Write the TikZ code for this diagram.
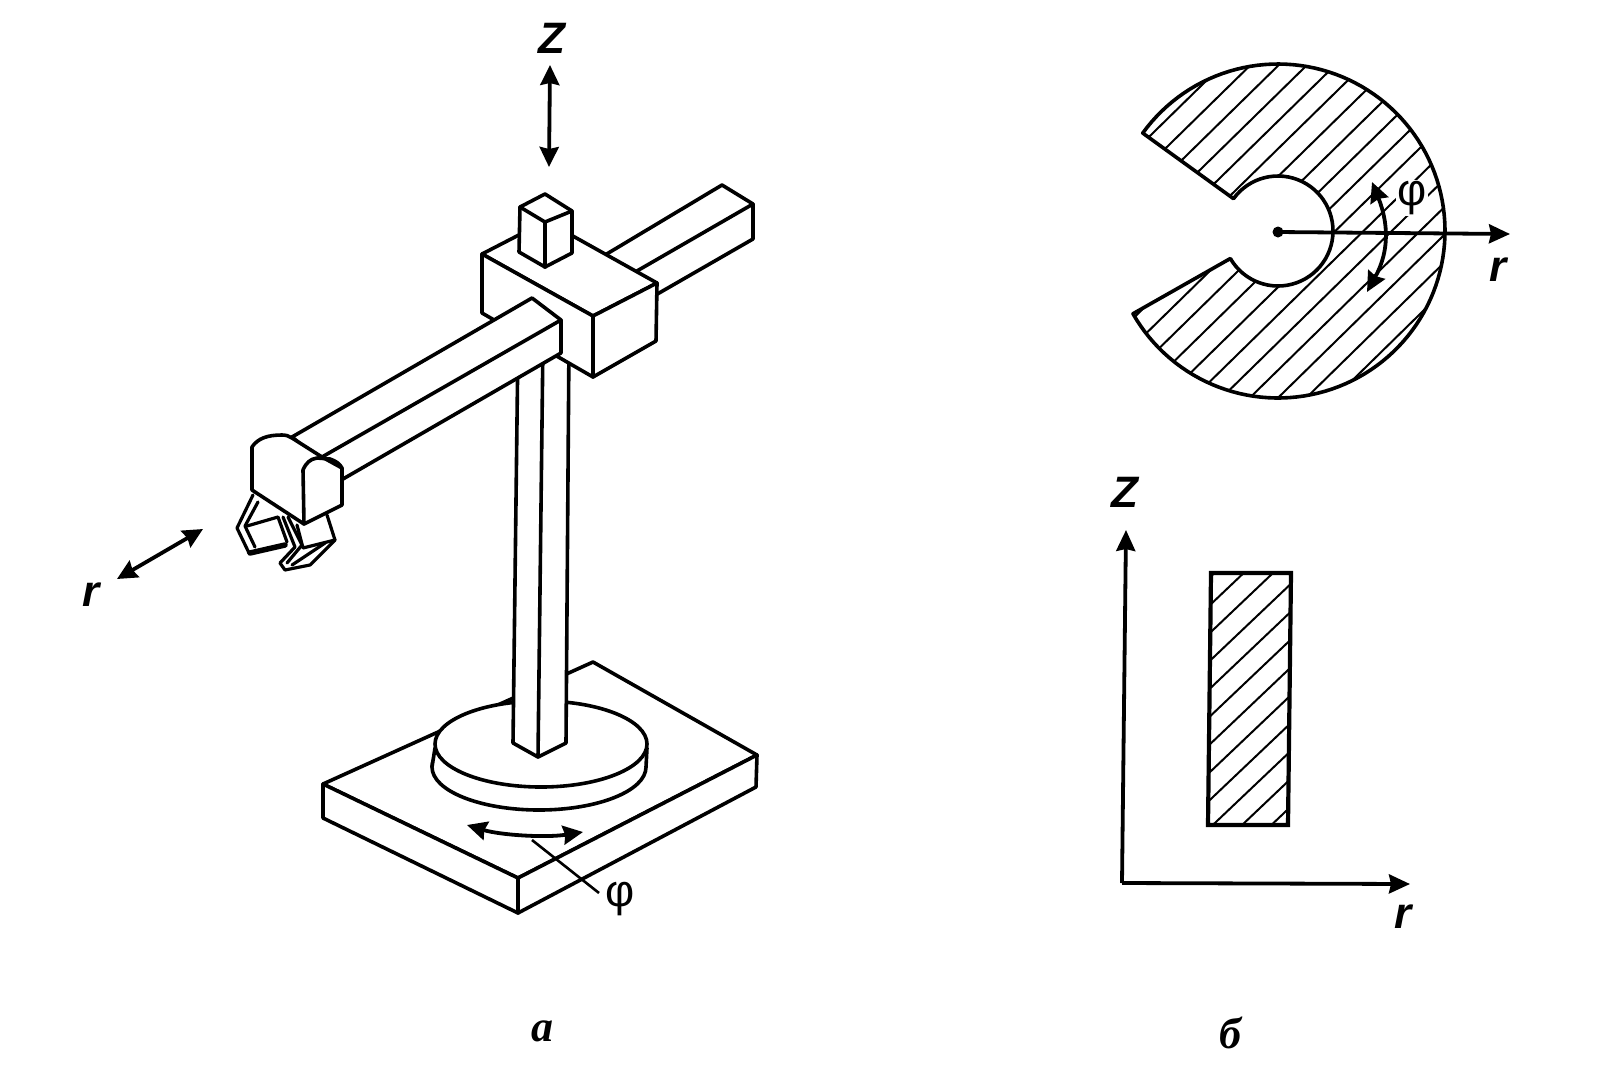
\documentclass[tikz,border=0pt]{standalone}
\usepackage{fontspec}
\setmainfont{Liberation Sans}
\newfontfamily\serifcyr{Liberation Serif}
\usetikzlibrary{arrows.meta}
\tikzset{
  ln/.style={line width=3.6pt,line join=round,line cap=round,black},
  solid part/.style={ln,fill=white},
  thin ln/.style={line width=2pt,black},
  grip/.style={line width=3.2pt,line join=round,line cap=round,black},
  dbl/.style={line width=3.8pt,{Stealth[width=19pt,length=20pt,inset=2pt]}-{Stealth[width=19pt,length=20pt,inset=2pt]}},
  single/.style={line width=3.8pt,-{Stealth[width=19pt,length=21pt,inset=2pt]}},
  lab/.style={inner sep=0pt,font=\fontsize{44}{44}\selectfont\bfseries\itshape},
  phi/.style={inner sep=0pt,font=\fontsize{45}{45}\selectfont},
  captionlab/.style={inner sep=0pt,font=\fontsize{44}{44}\selectfont\serifcyr\bfseries\itshape}
}
\begin{document}
\begin{tikzpicture}[x=1pt,y=-1pt]
\useasboundingbox (0,0) rectangle (1609,1088);
\fill[white] (0,0) rectangle (1609,1088);

% base plate
\filldraw[solid part] (323,784)--(593,662)--(757,755)--(518,878)--cycle;
\filldraw[solid part] (323,784)--(518,878)--(518,913)--(323,818)--cycle;
\filldraw[solid part] (518,878)--(757,755)--(756,787)--(518,913)--cycle;

% disc
\filldraw[solid part] (539,767) ellipse [x radius=107pt,y radius=43pt];
\fill[white] (434,744)--(648,744)--(645,767)--(433,767)--cycle;
\draw[ln] (435,748)--(432,767);
\draw[ln] (647,748)--(646,767);
\filldraw[solid part] (541,744) ellipse [x radius=106pt,y radius=43pt];

% column
\filldraw[solid part] (518,340)--(513,743)--(538,757)--(566,743)--(569,340)--cycle;
\draw[ln] (543,340)--(538,757);

% rear arm
\filldraw[solid part] (590,264)--(722,185)--(753,204)--(753,239)--(640,304)--cycle;
\draw[ln] (753,204)--(630,275);

% carriage block
\filldraw[solid part] (482,254)--(546,221)--(657,283)--(593,316)--cycle;
\filldraw[solid part] (482,254)--(593,316)--(593,377)--(482,313)--cycle;
\filldraw[solid part] (593,316)--(657,283)--(656,341)--(593,377)--cycle;

% small cube
\filldraw[solid part] (520,207)--(545,194)--(572,211)--(572,253)--(545,267)--(519,252)--cycle;
\draw[ln] (520,207)--(545,222)--(572,211);
\draw[ln] (545,222)--(545,267);

% front arm
\filldraw[solid part] (532,298)--(561,320)--(561,353)--(343,479)--(292,437)--cycle;
\draw[ln] (561,320)--(322,457);

% gripper fingers
\draw[grip] (253,495)--(237,528)--(249,553);
\draw[grip] (258,502)--(245,526)--(255,547);
\draw[grip] (247,526)--(278,517)--(287,542);
\draw[line width=5.5pt,line cap=round] (250,553)--(285,545);
\draw[grip] (283,517)--(295,547)--(280,563)--(285,570)--(310,565)--(335,540)--(327,515);
\draw[grip] (288,517)--(302,545)--(287,563);
\draw[grip] (297,525)--(303,548)--(335,540);
\draw[grip] (292,565)--(325,543);

% gripper housing
\filldraw[solid part] (252,490)--(252,447) .. controls (258,438) and (268,435) .. (282,435)
  .. controls (286,435) and (289,436) .. (292,438)--(322,457)--(342,468)--(342,505)--(304,524)--cycle;
\draw[ln] (304,524)--(303,470) .. controls (306,463) and (310,459) .. (317,458)--(330,459)
  .. controls (336,461) and (340,464) .. (342,468);

% motion marks, robot
\node[lab] (zA) at (552,38) {Z};
\coordinate (zTop) at (550,65);
\coordinate (zBot) at (549,167);
\draw[dbl] (zTop)--(zBot);
\node[lab] (rA) at (91,595) {r};
\coordinate (rEnd) at (117,579);
\coordinate (rStart) at (203,529);
\draw[dbl] (rEnd)--(rStart);
\coordinate (phL) at (467,825);
\coordinate (phR) at (583,832);
\draw[dbl] (phL) .. controls (500,835) and (545,838) .. (phR);
\node[phi] (phiA) at (620,899) {φ};
\coordinate (lead) at (532,840);
\coordinate (leadEnd) at (599,893);
\draw[line width=2.6pt] (lead)--(leadEnd);
\node[captionlab] (capA) at (542,1031) {а};

% plan view
\def\cshape{plot[domain=215.9:510.3,samples=120] ({1278+167*cos(\x)},{231+167*sin(\x)})
  -- plot[domain=510:216,samples=60] ({1278+55*cos(\x)},{231+55*sin(\x)}) -- cycle}
\begin{scope}
  \clip \cshape;
  \foreach \k in {-6,...,10}{
    \pgfmathsetmacro{\S}{1428.9+27.67*\k}
    \draw[thin ln] (1100,\S-1078)--(1450,\S-1421);
  }
\end{scope}
\draw[ln] \cshape;
\node[phi,fill=white,inner sep=1pt] (phiB) at (1412,198) {φ};
\node[circle,fill=black,minimum size=11pt,inner sep=0pt] (cen) at (1278,232) {};
\coordinate (rTip) at (1510,234);
\draw[single] (cen.center)--(rTip);
\node[lab] (rB) at (1498,270) {r};
\coordinate (arcTop) at (1372,182);
\coordinate (arcBot) at (1367,292);
\draw[dbl] (arcTop) .. controls (1388,222) and (1390,250) .. (arcBot);

% section view
\begin{scope}
  \clip (1211,573)--(1291,573)--(1288,825)--(1208,825)--cycle;
  \foreach \k in {-1,...,10}{
    \pgfmathsetmacro{\S}{1754.5+27.83*\k}
    \draw[thin ln] (1150,\S-1092.5)--(1350,\S-1282.5);
  }
\end{scope}
\draw[line width=4.2pt,line join=miter] (1211,573)--(1291,573)--(1288,825)--(1208,825)--cycle;
\coordinate (org) at (1122,883);
\coordinate (zAxis) at (1126,530);
\coordinate (rAxis) at (1410,884);
\draw[single] (org)--(zAxis);
\draw[single] (org)--(rAxis);
\node[lab] (zB) at (1125,492) {Z};
\node[lab] (rC) at (1403,917) {r};
\node[captionlab] (capB) at (1230,1033) {б};
\end{tikzpicture}
\end{document}
